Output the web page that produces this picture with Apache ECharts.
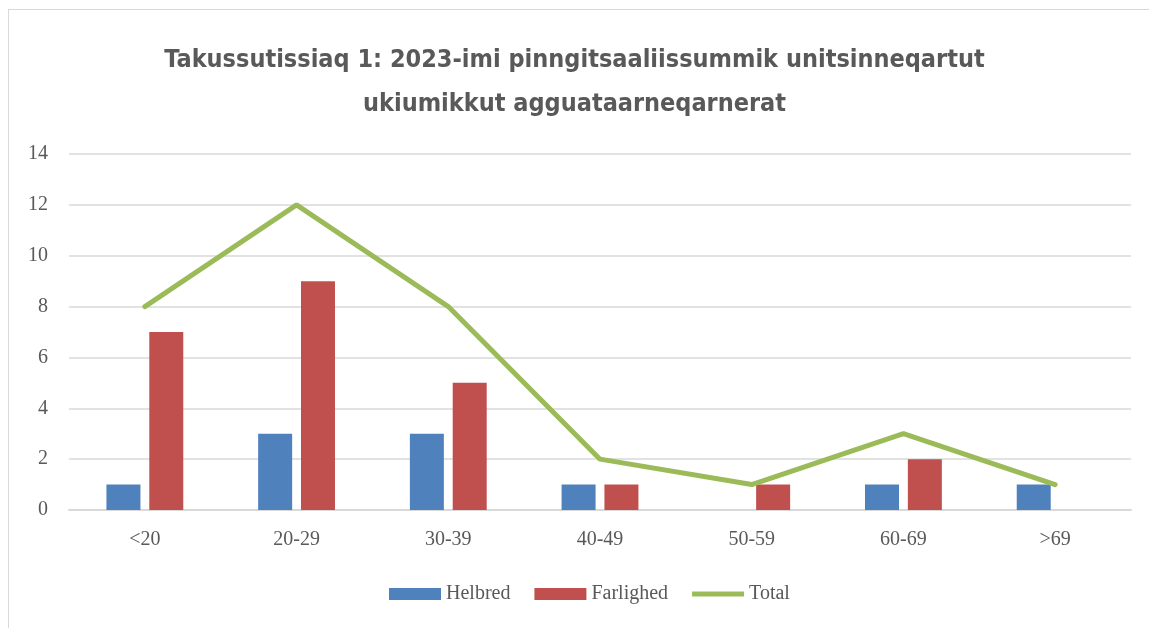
<!DOCTYPE html>
<html>
<head>
<meta charset="utf-8">
<script src="https://cdn.jsdelivr.net/npm/echarts@6/dist/echarts.min.js"></script>
<style>
  html, body { margin: 0; padding: 0; background: #fff; }
  #frame { position: absolute; left: 8px; top: 9px; width: 1160px; height: 640px; border: 1px solid #d9d9d9; }
  #chart { position: absolute; left: 0; top: 0; width: 1149px; height: 628px; }
</style>
</head>
<body>
<div id="frame"></div>
<div id="chart"></div>
<script>
  // age groups
  const categories = ['<20', '20-29', '30-39', '40-49', '50-59', '60-69', '>69']
  const helbred = [1, 3, 3, 1, 0, 1, 1]
  const farlighed = [7, 9, 5, 1, 1, 2, 0]
  const total = [8, 12, 8, 2, 1, 3, 1]

  const labelFont = 'Liberation Serif'
  const grey = '#595959'

  let myChart = echarts.init(document.getElementById('chart'))
  let option = {
    animation: false,
    title: {
      text: 'Takussutissiaq 1: 2023-imi pinngitsaaliissummik unitsinneqartut\nukiumikkut agguataarneqarnerat',
      left: 'center',
      top: 33,
      textStyle: {
        fontFamily: 'DejaVu Sans Condensed',
        fontWeight: 'bold',
        fontSize: 25,
        lineHeight: 44,
        color: grey
      }
    },
    legend: {
      bottom: 19,
      left: 384,
      itemWidth: 52,
      itemHeight: 12,
      itemGap: 24,
      textStyle: { fontFamily: labelFont, fontSize: 20, color: grey },
      data: [
        { name: 'Helbred', icon: 'rect' },
        { name: 'Farlighed', icon: 'rect' },
        { name: 'Total', icon: 'path://M0,0 L52,0 L52,5 L0,5 Z' }
      ]
    },
    grid: {
      left: 69,
      right: 18,
      top: 154,
      bottom: 118
    },
    xAxis: {
      type: 'category',
      data: categories,
      axisLine: { lineStyle: { color: '#d9d9d9', width: 2 } },
      axisTick: { show: false },
      axisLabel: { fontFamily: labelFont, fontSize: 20, color: grey, margin: 20 }
    },
    yAxis: {
      type: 'value',
      min: 0,
      max: 14,
      interval: 2,
      axisLabel: { fontFamily: labelFont, fontSize: 20, color: grey, margin: 21 },
      splitLine: { lineStyle: { color: '#d9d9d9', width: 1.5 } }
    },
    series: [
      {
        name: 'Helbred',
        type: 'bar',
        data: helbred,
        barWidth: 34,
        barGap: '26%',
        itemStyle: { color: '#4F81BD' }
      },
      {
        name: 'Farlighed',
        type: 'bar',
        data: farlighed,
        barWidth: 34,
        itemStyle: { color: '#C0504D' }
      },
      {
        name: 'Total',
        type: 'line',
        data: total,
        symbol: 'none',
        lineStyle: { color: '#9BBB59', width: 5, cap: 'round' },
        itemStyle: { color: '#9BBB59' }
      }
    ]
  }
  myChart.setOption(option)
</script>
</body>
</html>
